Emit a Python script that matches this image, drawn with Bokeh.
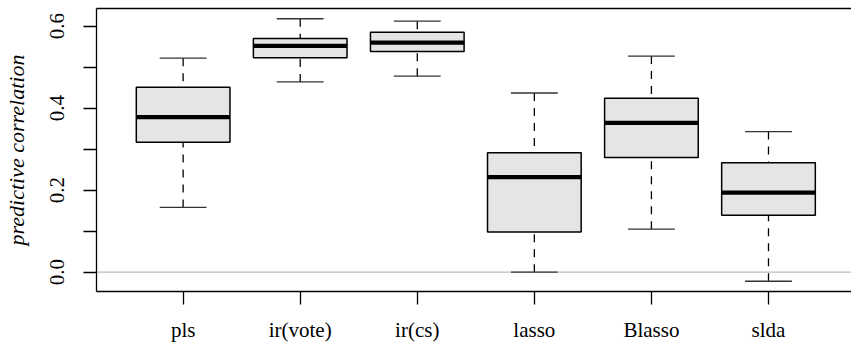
import math
from bokeh.plotting import figure
from bokeh.models import FixedTicker, NumeralTickFormatter, LinearAxis, Span, ColumnDataSource
from bokeh.embed import file_html
from bokeh.resources import INLINE

# ---- data ----
methods = ["pls", "ir(vote)", "ir(cs)", "lasso", "Blasso", "slda"]
lower_whisker = [0.158, 0.464, 0.478, 0.000, 0.105, -0.022]
lower_hinge = [0.317, 0.523, 0.538, 0.098, 0.280, 0.139]
median = [0.378, 0.552, 0.560, 0.232, 0.364, 0.194]
upper_hinge = [0.451, 0.570, 0.585, 0.291, 0.424, 0.267]
upper_whisker = [0.522, 0.618, 0.612, 0.437, 0.527, 0.343]
y_ticks = [0.0, 0.2, 0.4, 0.6]
y_minor_ticks = [0.1, 0.3, 0.5]
y_label = "predictive correlation"

xs = list(range(1, len(methods) + 1))
box_w = 0.8
cap_w = 0.4

src = ColumnDataSource(dict(
    x=xs,
    xl=[x - box_w / 2 for x in xs],
    xr=[x + box_w / 2 for x in xs],
    cl=[x - cap_w / 2 for x in xs],
    cr=[x + cap_w / 2 for x in xs],
    lw=lower_whisker, lh=lower_hinge, med=median, uh=upper_hinge, uw=upper_whisker,
))

FONT = "Liberation Serif"

p = figure(width=851, height=344, output_backend="svg", toolbar_location=None,
           x_range=(0.26, 6.709), y_range=(-0.047, 0.643),
           min_border_left=95, min_border_right=0, min_border_top=8, min_border_bottom=52,
           outline_line_color=None, background_fill_color="white", border_fill_color="white")
p.xgrid.visible = False
p.ygrid.visible = False

# zero reference line
p.add_layout(Span(location=0, dimension="width", line_color="#BEBEBE", line_width=1.2, level="underlay"))

# whiskers (dashed)
p.segment(x0="x", x1="x", y0="lw", y1="lh", source=src, line_color="black",
          line_width=1.3, line_dash="8 7")
p.segment(x0="x", x1="x", y0="uw", y1="uh", source=src, line_color="black",
          line_width=1.3, line_dash="8 7")
# whisker caps
p.segment(x0="cl", x1="cr", y0="lw", y1="lw", source=src, line_color="#333333", line_width=1.3)
p.segment(x0="cl", x1="cr", y0="uw", y1="uw", source=src, line_color="#333333", line_width=1.3)
# boxes
p.vbar(x="x", width=box_w, bottom="lh", top="uh", source=src,
       fill_color="#E5E5E5", line_color="black", line_width=1.5)
# medians
p.segment(x0="xl", x1="xr", y0="med", y1="med", source=src, line_color="black",
          line_width=4.3, line_cap="butt")

# x axis
xa = p.xaxis[0]
xa.ticker = FixedTicker(ticks=xs)
xa.major_label_overrides = {x: m for x, m in zip(xs, methods)}
xa.major_tick_out = 13
xa.major_tick_in = 0
xa.minor_tick_line_color = None
xa.major_label_standoff = 13
xa.major_label_text_font = FONT
xa.major_label_text_font_size = "21px"
xa.major_label_text_color = "black"
xa.axis_line_width = 1.3
xa.major_tick_line_width = 1.3
xa.axis_line_color = "black"
xa.major_tick_line_color = "black"

# y axis
ya = p.yaxis[0]
ya.ticker = FixedTicker(ticks=y_ticks, minor_ticks=y_minor_ticks)
ya.formatter = NumeralTickFormatter(format="0.0")
ya.major_tick_out = 13
ya.major_tick_in = 0
ya.minor_tick_out = 13
ya.minor_tick_in = 0
ya.major_label_orientation = "vertical"
ya.major_label_standoff = 19
ya.major_label_text_font = FONT
ya.major_label_text_font_size = "21px"
ya.major_label_text_color = "black"
ya.axis_line_width = 1.3
ya.major_tick_line_width = 1.3
ya.minor_tick_line_width = 1.3
ya.axis_line_color = "black"
ya.major_tick_line_color = "black"
ya.minor_tick_line_color = "black"
ya.axis_label = y_label
ya.axis_label_text_font = FONT
ya.axis_label_text_font_style = "italic"
ya.axis_label_text_font_size = "22px"
ya.axis_label_text_color = "black"
ya.axis_label_standoff = 19

# top frame line (axis without ticks/labels)
top = LinearAxis(ticker=FixedTicker(ticks=[]), major_tick_out=0, major_tick_in=0,
                 minor_tick_out=0, minor_tick_in=0, major_label_standoff=0,
                 major_label_text_font_size="0px", axis_line_width=1.3, axis_line_color="black")
p.add_layout(top, "above")

open("out.html", "w").write(file_html(p, INLINE))
